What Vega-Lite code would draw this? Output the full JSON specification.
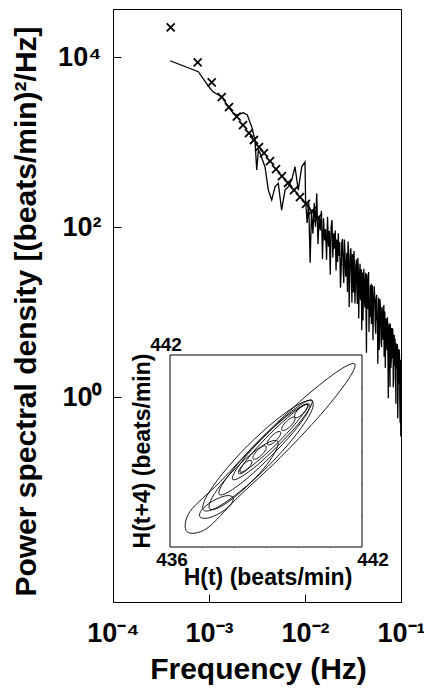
{
"$schema":"https://vega.github.io/schema/vega-lite/v6.json",
"width":288,"height":593,
"autosize":"none",
"padding":{"left":113,"top":9,"right":23,"bottom":91},
"background":"white",
"config":{
 "view":{"stroke":"black","strokeWidth":1},
 "axis":{"grid":false,"domainColor":"black","tickColor":"black","labelColor":"black","titleColor":"black","labelFont":"Liberation Sans","titleFont":"Liberation Sans","labelFontWeight":"bold","titleFontWeight":"bold"},
 "text":{"font":"Liberation Sans","fontWeight":"bold","color":"black"}
},
"datasets":{
 "psd":[
{"f":0.000393,"p":9040},{"f":0.000774,"p":6710},{"f":0.000984,"p":4560},{"f":0.0011,"p":3900},{"f":0.001355,"p":3410},{"f":0.001589,"p":2600},{"f":0.00179,"p":2180},{"f":0.001945,"p":2080},{"f":0.002276,"p":2210},{"f":0.002506,"p":2080},{"f":0.002786,"p":1510},{"f":0.003013,"p":1060},{"f":0.00314,"p":469},{"f":0.00327,"p":805},{"f":0.0034,"p":736},{"f":0.00383,"p":512},{"f":0.00415,"p":272},{"f":0.0045,"p":208},{"f":0.00487,"p":298},{"f":0.00527,"p":327},{"f":0.00571,"p":158},{"f":0.00619,"p":272},{"f":0.0067,"p":298},{"f":0.00726,"p":357},{"f":0.00787,"p":512},{"f":0.00851,"p":272},{"f":0.00925,"p":512},{"f":0.01,"p":586},
{"f":0.01014,"p":207},{"f":0.01053,"p":112},{"f":0.01092,"p":199},{"f":0.01131,"p":38},{"f":0.0117,"p":155},{"f":0.01209,"p":83.4},{"f":0.01248,"p":192},{"f":0.01287,"p":101},{"f":0.01326,"p":249},{"f":0.01365,"p":62.7},{"f":0.01404,"p":135},{"f":0.01443,"p":91.4},{"f":0.01482,"p":156},{"f":0.01521,"p":42.1},{"f":0.0156,"p":127},{"f":0.01599,"p":69.5},{"f":0.01638,"p":95.1},{"f":0.01677,"p":41.2},{"f":0.01716,"p":132},{"f":0.01755,"p":58.6},{"f":0.01794,"p":90.2},{"f":0.01833,"p":27.6},{"f":0.01872,"p":99.5},{"f":0.01911,"p":121},{"f":0.0195,"p":43.8},{"f":0.01989,"p":84.7},{"f":0.02028,"p":55.5},{"f":0.02067,"p":91.4},{"f":0.02106,"p":30.8},{"f":0.02145,"p":71.6},{"f":0.02184,"p":39},{"f":0.02223,"p":84.7},{"f":0.02262,"p":46.2},{"f":0.02301,"p":66.2},{"f":0.0234,"p":19.4},
{"f":0.02418,"p":66.1},{"f":0.02496,"p":34},{"f":0.02574,"p":71.4},{"f":0.02652,"p":26.1},{"f":0.0273,"p":49.9},{"f":0.02808,"p":67.5},{"f":0.02886,"p":11.5},{"f":0.02964,"p":45.7},{"f":0.03042,"p":27.6},{"f":0.0312,"p":48.1},{"f":0.03198,"p":17},{"f":0.03276,"p":34.7},{"f":0.03354,"p":21.9},{"f":0.03432,"p":41.6},{"f":0.0351,"p":12.5},{"f":0.03588,"p":33.3},{"f":0.03666,"p":20.7},{"f":0.03744,"p":37.1},{"f":0.03822,"p":15.2},{"f":0.039,"p":6.12},{"f":0.03978,"p":29.2},{"f":0.04056,"p":15.7},{"f":0.04134,"p":24.3},{"f":0.04212,"p":11.3},{"f":0.0429,"p":29.1},{"f":0.04368,"p":3.33},{"f":0.04446,"p":23},{"f":0.04524,"p":14.2},{"f":0.04602,"p":29.6},{"f":0.0468,"p":10.7},
{"f":0.04797,"p":20.2},{"f":0.04914,"p":7.26},{"f":0.05031,"p":20.7},{"f":0.05148,"p":10.3},{"f":0.05265,"p":20.2},{"f":0.05382,"p":7.28},{"f":0.05499,"p":13.7},{"f":0.05616,"p":8.61},{"f":0.05733,"p":2.47},{"f":0.0585,"p":14.8},{"f":0.05967,"p":6.28},{"f":0.06084,"p":11.9},{"f":0.06201,"p":4.5},{"f":0.06318,"p":11.5},{"f":0.06435,"p":6.5},{"f":0.06552,"p":9.23},{"f":0.06669,"p":2.99},{"f":0.06786,"p":10.2},{"f":0.06903,"p":4.66},{"f":0.0702,"p":7.06},{"f":0.07137,"p":3.56},{"f":0.07254,"p":7.66},{"f":0.07371,"p":0.968},{"f":0.07488,"p":6.58},{"f":0.07605,"p":3.81},{"f":0.07722,"p":7.29},{"f":0.07839,"p":2.21},{"f":0.07956,"p":5.31},{"f":0.08073,"p":2.85},{"f":0.0819,"p":6.4},{"f":0.08307,"p":1.31},{"f":0.08424,"p":4.63},{"f":0.08541,"p":3},{"f":0.08658,"p":4.85},{"f":0.08775,"p":1.72},{"f":0.08892,"p":4.12},{"f":0.09009,"p":2.21},{"f":0.09126,"p":4.2},{"f":0.09243,"p":0.566},{"f":0.0936,"p":3.03},{"f":0.09477,"p":1.44},{"f":0.09594,"p":3.6},{"f":0.09711,"p":0.918},{"f":0.09828,"p":2.75},{"f":0.09945,"p":0.344},{"f":0.09984,"p":2.56},
{"f":0.02379,"p":30.1},{"f":0.02457,"p":72.6},{"f":0.02535,"p":22},{"f":0.02613,"p":47.3},{"f":0.02691,"p":28.6},{"f":0.02769,"p":17.3},{"f":0.02847,"p":52.4},{"f":0.02925,"p":28.2},{"f":0.03003,"p":56.4},{"f":0.03081,"p":12.9},{"f":0.03159,"p":39.1},{"f":0.03237,"p":52.5},{"f":0.03315,"p":12.6},{"f":0.03393,"p":35.5},{"f":0.03471,"p":18.2},{"f":0.03549,"p":43.7},{"f":0.03627,"p":8.39},{"f":0.03705,"p":28.6},{"f":0.03783,"p":13.8},{"f":0.03861,"p":32},{"f":0.03939,"p":17.1},{"f":0.04017,"p":7.96},{"f":0.04095,"p":32.4},{"f":0.04173,"p":13.5},{"f":0.04251,"p":20.8},{"f":0.04329,"p":9.08},{"f":0.04407,"p":28.1},{"f":0.04485,"p":10.9},{"f":0.04563,"p":21.2},{"f":0.04641,"p":5.82},
{"f":0.04758,"p":8.79},{"f":0.04875,"p":20.8},{"f":0.04992,"p":11.1},{"f":0.05109,"p":4.67},{"f":0.05226,"p":16.4},{"f":0.05343,"p":13.2},{"f":0.0546,"p":5.56},{"f":0.05577,"p":16},{"f":0.05694,"p":7.59},{"f":0.05811,"p":12},{"f":0.05928,"p":3.59},{"f":0.06045,"p":14.2},{"f":0.06162,"p":7.24},{"f":0.06279,"p":3.88},{"f":0.06396,"p":10.5},{"f":0.06513,"p":4.69},{"f":0.0663,"p":12.1},{"f":0.06747,"p":5.41},{"f":0.06864,"p":2.21},{"f":0.06981,"p":8.41},{"f":0.07098,"p":4.54},{"f":0.07215,"p":8.69},{"f":0.07332,"p":2.36},{"f":0.07449,"p":5.68},{"f":0.07566,"p":7.36},{"f":0.07683,"p":1.32},{"f":0.078,"p":5.9},{"f":0.07917,"p":2.7},{"f":0.08034,"p":6.49},{"f":0.08151,"p":3.25},{"f":0.08268,"p":4.7},{"f":0.08385,"p":1.6},{"f":0.08502,"p":5.41},{"f":0.08619,"p":2.31},{"f":0.08736,"p":3.91},{"f":0.08853,"p":0.836},{"f":0.0897,"p":4.28},{"f":0.09087,"p":2.14},{"f":0.09204,"p":3.63},{"f":0.09321,"p":1.23},{"f":0.09438,"p":3.69},{"f":0.09555,"p":1.56},{"f":0.09672,"p":2.64},{"f":0.09789,"p":0.499},{"f":0.09906,"p":2.48}
 ],
 "cross":[
{"f":0.000399,"p":22300},{"f":0.000762,"p":8660},{"f":0.001067,"p":5040},{"f":0.001355,"p":3380},{"f":0.001615,"p":2580},{"f":0.001945,"p":1990},{"f":0.00226,"p":1585},{"f":0.00261,"p":1276},{"f":0.00294,"p":1057},{"f":0.00332,"p":873},{"f":0.00374,"p":743},{"f":0.00432,"p":598},{"f":0.00499,"p":481},{"f":0.00575,"p":398},{"f":0.00665,"p":330},{"f":0.00768,"p":272},{"f":0.00887,"p":225},{"f":0.01023,"p":187},{"f":0.0118,"p":154},{"f":0.01365,"p":128}
 ],
 "contour":[
{"c":"e1","i":0,"x":441.77,"y":441.72},{"c":"e1","i":1,"x":441.27,"y":441.51},{"c":"e1","i":2,"x":440.2,"y":440.67},{"c":"e1","i":3,"x":438.85,"y":439.4},{"c":"e1","i":4,"x":437.58,"y":438.05},{"c":"e1","i":5,"x":436.62,"y":437.1},{"c":"e1","i":6,"x":436.53,"y":436.48},{"c":"e1","i":7,"x":437.15,"y":436.58},{"c":"e1","i":8,"x":438.1,"y":437.53},{"c":"e1","i":9,"x":439.45,"y":438.8},{"c":"e1","i":10,"x":440.72,"y":440.15},{"c":"e1","i":11,"x":441.56,"y":441.22},
{"c":"e2","i":0,"x":440.45,"y":440.55},{"c":"e2","i":1,"x":440.06,"y":440.48},{"c":"e2","i":2,"x":439.32,"y":439.97},{"c":"e2","i":3,"x":438.43,"y":439.17},{"c":"e2","i":4,"x":437.63,"y":438.28},{"c":"e2","i":5,"x":437.12,"y":437.54},{"c":"e2","i":6,"x":437.05,"y":437.15},{"c":"e2","i":7,"x":437.44,"y":437.22},{"c":"e2","i":8,"x":438.18,"y":437.73},{"c":"e2","i":9,"x":439.07,"y":438.53},{"c":"e2","i":10,"x":439.87,"y":439.42},{"c":"e2","i":11,"x":440.38,"y":440.16},
{"c":"e3","i":0,"x":439.36,"y":439.31},{"c":"e3","i":1,"x":439.1,"y":439.28},{"c":"e3","i":2,"x":438.63,"y":438.98},{"c":"e3","i":3,"x":438.07,"y":438.48},{"c":"e3","i":4,"x":437.57,"y":437.92},{"c":"e3","i":5,"x":437.27,"y":437.45},{"c":"e3","i":6,"x":437.24,"y":437.19},{"c":"e3","i":7,"x":437.5,"y":437.22},{"c":"e3","i":8,"x":437.97,"y":437.52},{"c":"e3","i":9,"x":438.53,"y":438.02},{"c":"e3","i":10,"x":439.03,"y":438.58},{"c":"e3","i":11,"x":439.33,"y":439.06},
{"c":"e4","i":0,"x":440.44,"y":440.59},{"c":"e4","i":1,"x":440.18,"y":440.51},{"c":"e4","i":2,"x":439.66,"y":440.13},{"c":"e4","i":3,"x":439.02,"y":439.53},{"c":"e4","i":4,"x":438.42,"y":438.89},{"c":"e4","i":5,"x":438.04,"y":438.37},{"c":"e4","i":6,"x":437.96,"y":438.11},{"c":"e4","i":7,"x":438.22,"y":438.19},{"c":"e4","i":8,"x":438.74,"y":438.57},{"c":"e4","i":9,"x":439.38,"y":439.17},{"c":"e4","i":10,"x":439.98,"y":439.81},{"c":"e4","i":11,"x":440.36,"y":440.33},
{"c":"e5","i":0,"x":440.31,"y":440.46},{"c":"e5","i":1,"x":440.11,"y":440.38},{"c":"e5","i":2,"x":439.67,"y":440.04},{"c":"e5","i":3,"x":439.12,"y":439.53},{"c":"e5","i":4,"x":438.61,"y":438.98},{"c":"e5","i":5,"x":438.27,"y":438.55},{"c":"e5","i":6,"x":438.19,"y":438.34},{"c":"e5","i":7,"x":438.4,"y":438.42},{"c":"e5","i":8,"x":438.83,"y":438.76},{"c":"e5","i":9,"x":439.38,"y":439.27},{"c":"e5","i":10,"x":439.89,"y":439.82},{"c":"e5","i":11,"x":440.23,"y":440.26},
{"c":"e6","i":0,"x":440.36,"y":440.46},{"c":"e6","i":1,"x":440.07,"y":440.38},{"c":"e6","i":2,"x":439.47,"y":439.94},{"c":"e6","i":3,"x":438.74,"y":439.26},{"c":"e6","i":4,"x":438.06,"y":438.53},{"c":"e6","i":5,"x":437.62,"y":437.93},{"c":"e6","i":6,"x":437.54,"y":437.64},{"c":"e6","i":7,"x":437.83,"y":437.72},{"c":"e6","i":8,"x":438.43,"y":438.16},{"c":"e6","i":9,"x":439.16,"y":438.84},{"c":"e6","i":10,"x":439.84,"y":439.57},{"c":"e6","i":11,"x":440.28,"y":440.17},
{"c":"l1","i":0,"x":438.55,"y":438.7},{"c":"l1","i":1,"x":438.44,"y":438.69},{"c":"l1","i":2,"x":438.28,"y":438.57},{"c":"l1","i":3,"x":438.16,"y":438.41},{"c":"l1","i":4,"x":438.15,"y":438.3},{"c":"l1","i":5,"x":438.26,"y":438.31},{"c":"l1","i":6,"x":438.42,"y":438.43},{"c":"l1","i":7,"x":438.54,"y":438.59},
{"c":"l2","i":0,"x":439.0,"y":439.15},{"c":"l2","i":1,"x":438.89,"y":439.14},{"c":"l2","i":2,"x":438.73,"y":439.02},{"c":"l2","i":3,"x":438.61,"y":438.86},{"c":"l2","i":4,"x":438.6,"y":438.75},{"c":"l2","i":5,"x":438.71,"y":438.76},{"c":"l2","i":6,"x":438.87,"y":438.88},{"c":"l2","i":7,"x":438.99,"y":439.04},
{"c":"l3","i":0,"x":439.45,"y":439.6},{"c":"l3","i":1,"x":439.34,"y":439.59},{"c":"l3","i":2,"x":439.18,"y":439.47},{"c":"l3","i":3,"x":439.06,"y":439.31},{"c":"l3","i":4,"x":439.05,"y":439.2},{"c":"l3","i":5,"x":439.16,"y":439.21},{"c":"l3","i":6,"x":439.32,"y":439.33},{"c":"l3","i":7,"x":439.44,"y":439.49},
{"c":"l4","i":0,"x":439.9,"y":440.05},{"c":"l4","i":1,"x":439.79,"y":440.04},{"c":"l4","i":2,"x":439.63,"y":439.92},{"c":"l4","i":3,"x":439.51,"y":439.76},{"c":"l4","i":4,"x":439.5,"y":439.65},{"c":"l4","i":5,"x":439.61,"y":439.66},{"c":"l4","i":6,"x":439.77,"y":439.78},{"c":"l4","i":7,"x":439.89,"y":439.94},
{"c":"l5","i":0,"x":440.3,"y":440.45},{"c":"l5","i":1,"x":440.19,"y":440.44},{"c":"l5","i":2,"x":440.03,"y":440.32},{"c":"l5","i":3,"x":439.91,"y":440.16},{"c":"l5","i":4,"x":439.9,"y":440.05},{"c":"l5","i":5,"x":440.01,"y":440.06},{"c":"l5","i":6,"x":440.17,"y":440.18},{"c":"l5","i":7,"x":440.29,"y":440.34},
{"c":"e9","i":0,"x":437.97,"y":437.55},{"c":"e9","i":1,"x":437.74,"y":437.6},{"c":"e9","i":2,"x":437.34,"y":437.44},{"c":"e9","i":3,"x":437.0,"y":437.17},{"c":"e9","i":4,"x":436.93,"y":436.95},{"c":"e9","i":5,"x":437.16,"y":436.9},{"c":"e9","i":6,"x":437.56,"y":437.06},{"c":"e9","i":7,"x":437.9,"y":437.33}
 ],
 "box":[{"x":436,"x2":442,"y":436,"y2":442}]
},
"layer":[
 {
  "layer":[
   {"data":{"name":"psd"},
    "mark":{"type":"line","color":"black","strokeWidth":1.3},
    "encoding":{
     "x":{"field":"f","type":"quantitative","scale":{"type":"log","domain":[0.0001,0.1],"nice":false},
      "axis":{"values":[0.0001,0.001,0.01,0.1],"labelExpr":"datum.value < 0.0005 ? '10⁻⁴' : datum.value < 0.005 ? '10⁻³' : datum.value < 0.05 ? '10⁻²' : '10⁻¹'","tickSize":-8,"labelPadding":26,"labelFontSize":27,"labelFlush":false,"labelOverlap":false,"labelBound":false,"title":"Frequency (Hz)","titleFontSize":30,"titleX":145,"titleY":76,"titleBaseline":"alphabetic","titleAlign":"center"}},
     "y":{"field":"p","type":"quantitative","scale":{"type":"log","domain":[0.0039,36700],"nice":false},
      "axis":{"values":[1,100,10000],"labelExpr":"datum.value < 10 ? '10⁰' : datum.value < 1000 ? '10²' : '10⁴'","tickSize":-8,"labelPadding":20,"labelFontSize":27,"labelOverlap":false,"title":"Power spectral density [(beats/min)²/Hz]","titleFontSize":30,"titleX":-78,"titleY":302,"titleAngle":270,"titleBaseline":"alphabetic","titleAlign":"center"}}
    }},
   {"data":{"name":"cross"},
    "mark":{"type":"point","shape":"M-1,-1L1,1M-1,1L1,-1","filled":false,"stroke":"black","strokeWidth":1.8,"size":64,"opacity":1},
    "encoding":{"x":{"field":"f","type":"quantitative"},"y":{"field":"p","type":"quantitative"}}}
  ]
 },
 {
  "layer":[
   {"data":{"name":"box"},
    "mark":{"type":"rect","fill":"white","stroke":"black","strokeWidth":1},
    "encoding":{
     "x":{"field":"x","type":"quantitative","scale":{"domain":[436,442],"range":[57,249],"nice":false,"zero":false},
      "axis":{"orient":"bottom","offset":-55,"values":[437,438,439,440,441],"labels":false,"domain":false,"tickSize":-5,"title":null}},
     "x2":{"field":"x2"},
     "y":{"field":"y","type":"quantitative","scale":{"domain":[436,442],"range":[538,346],"nice":false,"zero":false},
      "axis":{"orient":"right","offset":-39,"values":[437,438,439,440,441],"labels":false,"domain":false,"tickSize":-5,"title":null}},
     "y2":{"field":"y2"}
    }},
   {"data":{"name":"contour"},
    "mark":{"type":"line","interpolate":"cardinal-closed","color":"black","strokeWidth":0.9},
    "encoding":{"x":{"field":"x","type":"quantitative"},"y":{"field":"y","type":"quantitative"},"detail":{"field":"c"},"order":{"field":"i"}}},
   {"data":{"values":[{"x":436,"y":442,"t":"442"}]},
    "mark":{"type":"text","fontSize":19,"align":"center","baseline":"middle","dx":-4,"dy":-10},
    "encoding":{"x":{"field":"x","type":"quantitative"},"y":{"field":"y","type":"quantitative"},"text":{"field":"t"}}},
   {"data":{"values":[{"x":436,"y":436,"t":"436"}]},
    "mark":{"type":"text","fontSize":19,"align":"center","baseline":"middle","dx":2,"dy":13},
    "encoding":{"x":{"field":"x","type":"quantitative"},"y":{"field":"y","type":"quantitative"},"text":{"field":"t"}}},
   {"data":{"values":[{"x":442,"y":436,"t":"442"}]},
    "mark":{"type":"text","fontSize":19,"align":"center","baseline":"middle","dx":11,"dy":13},
    "encoding":{"x":{"field":"x","type":"quantitative"},"y":{"field":"y","type":"quantitative"},"text":{"field":"t"}}},
   {"data":{"values":[{"x":439,"y":436,"t":"H(t) (beats/min)"}]},
    "mark":{"type":"text","fontSize":23,"align":"center","baseline":"middle","dx":2,"dy":31},
    "encoding":{"x":{"field":"x","type":"quantitative"},"y":{"field":"y","type":"quantitative"},"text":{"field":"t"}}},
   {"data":{"values":[{"x":436,"y":439,"t":"H(t+4) (beats/min)"}]},
    "mark":{"type":"text","fontSize":23,"align":"center","baseline":"middle","angle":270,"dy":-27},
    "encoding":{"x":{"field":"x","type":"quantitative"},"y":{"field":"y","type":"quantitative"},"text":{"field":"t"}}}
  ]
 }
],
"resolve":{"scale":{"x":"independent","y":"independent"},"axis":{"x":"independent","y":"independent"}}
}
